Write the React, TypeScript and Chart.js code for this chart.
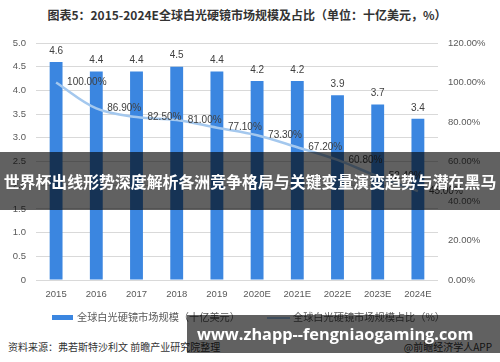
import React, { useEffect, useRef } from "react";
import { Chart, registerables } from "chart.js";

Chart.register(...registerables);

const categories = ["2015", "2016", "2017", "2018", "2019", "2020E", "2021E", "2022E", "2023E", "2024E"];
const marketSize = [4.6, 4.4, 4.4, 4.5, 4.4, 4.2, 4.2, 3.9, 3.7, 3.4];
const marketShare = [100.0, 86.9, 82.5, 81.0, 77.1, 73.3, 67.2, 60.8, 52.4, 45.0];
const leftTicks = { min: 0, max: 5, step: 0.5 };
const rightTicks = { min: 0, max: 120, step: 20 };

const titleText = "图表5：2015-2024E全球白光硬镜市场规模及占比（单位：十亿美元，%）";
const legendBar = "全球白光硬镜市场规模（十亿美元）";
const legendLine = "全球白光硬镜市场规模占比（%）";
const sourceText = "资料来源：弗若斯特沙利文 前瞻产业研究院整理";
const creditText = "@前瞻经济学人APP";
const bannerText = "世界杯出线形势深度解析各洲竞争格局与关键变量演变趋势与潜在黑马";
const watermarkText = "www.zhapp--fengniaogaming.com";

const BAR_COLOR = "#3b86e0";
const LINE_COLOR = "#a4c8ee";
const FONT = "'Liberation Sans', 'Noto Sans CJK SC', sans-serif";
const CJK = "'Noto Sans CJK SC', sans-serif";

const labelPlugin = {
  id: "valueLabels",
  afterDatasetsDraw(chart: any) {
    const ctx = chart.ctx;
    ctx.save();
    ctx.font = `10px ${FONT}`;
    ctx.fillStyle = "#404040";
    const barMeta = chart.getDatasetMeta(1);
    barMeta.data.forEach((el: any, i: number) => {
      ctx.textAlign = "center";
      ctx.textBaseline = "middle";
      ctx.fillText(String(marketSize[i].toFixed(1)), el.x, el.y - 11);
    });
    const lineMeta = chart.getDatasetMeta(0);
    lineMeta.data.forEach((el: any, i: number) => {
      ctx.textAlign = "left";
      ctx.textBaseline = "middle";
      ctx.fillText(marketShare[i].toFixed(2) + "%", el.x + 11, el.y);
    });
    ctx.restore();
  },
};

export default function App() {
  const ref = useRef<HTMLCanvasElement | null>(null);

  useEffect(() => {
    if (!ref.current) return;
    const chart = new Chart(ref.current, {
      type: "bar",
      data: {
        labels: categories,
        datasets: [
          {
            type: "line",
            label: legendLine,
            data: marketShare,
            yAxisID: "y1",
            borderColor: LINE_COLOR,
            borderWidth: 2.5,
            pointRadius: 0,
            tension: 0.35,
            order: 0,
          } as any,
          {
            type: "bar",
            label: legendBar,
            data: marketSize,
            yAxisID: "y",
            backgroundColor: BAR_COLOR,
            categoryPercentage: 1,
            barPercentage: 0.32,
            order: 1,
          },
        ],
      },
      options: {
        animation: false,
        responsive: false,
        layout: { padding: { top: 43, left: 0, right: 0, bottom: 0 } },
        plugins: { legend: { display: false }, tooltip: { enabled: false }, title: { display: false } },
        scales: {
          x: {
            grid: { display: false, drawTicks: false },
            border: { display: false },
            ticks: { padding: 9, color: "#595959", font: { size: 9.5, family: FONT } },
            afterFit: (s: any) => { s.height = 30; },
          },
          y: {
            position: "left",
            min: leftTicks.min,
            max: leftTicks.max,
            ticks: { stepSize: leftTicks.step, padding: 10, color: "#595959", font: { size: 9.5, family: FONT } },
            grid: { color: "#d9d9d9", drawTicks: false },
            border: { display: false },
            afterFit: (s: any) => { s.width = 36; },
          },
          y1: {
            position: "right",
            min: rightTicks.min,
            max: rightTicks.max,
            ticks: {
              stepSize: rightTicks.step,
              padding: 10,
              color: "#595959",
              font: { size: 9.5, family: FONT },
              callback: (v: any) => Number(v).toFixed(2) + "%",
            },
            grid: { display: false, drawTicks: false },
            border: { display: false },
            afterFit: (s: any) => { s.width = 62; },
          },
        },
      } as any,
      plugins: [labelPlugin],
    });
    return () => chart.destroy();
  }, []);

  return (
    <div style={{ position: "absolute", left: 0, top: 0, width: 500, height: 362, background: "#fff", overflow: "hidden" }}>
      <div style={{ position: "absolute", left: 0, top: 7, width: 494, textAlign: "center", fontFamily: CJK, fontWeight: 700, fontSize: 12, lineHeight: "16px", color: "#333" }}>
        {titleText}
      </div>
      <canvas ref={ref} width={500} height={310} style={{ position: "absolute", left: 0, top: 0, width: 500, height: 310 }} />
      <div style={{ position: "absolute", left: 52, top: 315, width: 21, height: 5, background: BAR_COLOR }} />
      <div style={{ position: "absolute", left: 77, top: 309, fontFamily: CJK, fontSize: 10.2, lineHeight: "16px", color: "#595959", whiteSpace: "nowrap" }}>
        {legendBar}
      </div>
      <div style={{ position: "absolute", left: 267, top: 317, width: 23, height: 2, background: LINE_COLOR }} />
      <div style={{ position: "absolute", left: 293, top: 309, fontFamily: CJK, fontSize: 10.2, lineHeight: "16px", color: "#595959", whiteSpace: "nowrap" }}>
        {legendLine}
      </div>
      <div style={{ position: "absolute", left: 8, top: 339, fontFamily: CJK, fontSize: 10, lineHeight: "16px", color: "#333", whiteSpace: "nowrap" }}>
        {sourceText}
      </div>
      <div style={{ position: "absolute", right: 8, top: 339, fontFamily: CJK, fontSize: 10, lineHeight: "16px", color: "#333", whiteSpace: "nowrap" }}>
        {creditText}
      </div>
      <div style={{ position: "absolute", left: 0, top: 152, width: 500, height: 58, background: "rgba(0,0,0,0.62)", display: "flex", alignItems: "center", justifyContent: "center" }}>
        <span style={{ fontFamily: CJK, fontWeight: 700, fontSize: 15.9, color: "#fff", whiteSpace: "nowrap" }}>{bannerText}</span>
      </div>
      <div style={{ position: "absolute", left: 187, top: 315, width: 313, height: 38, background: "rgba(0,0,0,0.62)", display: "flex", alignItems: "center" }}>
        <span style={{ marginLeft: 10, fontFamily: "'Open Sans', sans-serif", fontWeight: 700, fontSize: 16.3, color: "#fff", whiteSpace: "nowrap" }}>{watermarkText}</span>
      </div>
    </div>
  );
}
